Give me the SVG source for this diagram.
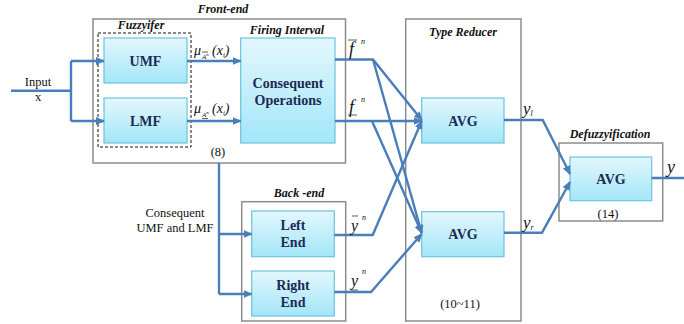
<svg xmlns="http://www.w3.org/2000/svg" width="684" height="324" viewBox="0 0 684 324" font-family="Liberation Serif, DejaVu Serif, Times New Roman, serif">
<defs>
<linearGradient id="bg" x1="0" y1="0" x2="0" y2="1">
<stop offset="0" stop-color="#e3f7fd"/>
<stop offset="1" stop-color="#a3e6f8"/>
</linearGradient>
<marker id="ah" markerUnits="userSpaceOnUse" markerWidth="9" markerHeight="8" refX="8" refY="4" orient="auto">
<path d="M0,0 L9,4 L0,8 Z" fill="#4a7ebb"/>
</marker>
</defs>
<style>
.frame{fill:none;stroke:#8c8c8c;stroke-width:1.5}
.blk{fill:url(#bg);stroke:#6cc3dc;stroke-width:1.2}
.lbl{font-weight:bold;font-size:14px;fill:#1b2a55;text-anchor:middle}
.ttl{font-weight:bold;font-style:italic;font-size:12px;fill:#111}
.txt{font-size:12.5px;fill:#111;text-anchor:middle}
.math{font-style:italic;fill:#111}
.c{fill:none;stroke:#4a7ebb;stroke-width:2.4}
.a{marker-end:url(#ah)}
.bar{stroke:#333;stroke-width:0.8}
</style>

<g id="front-end">
<rect class="frame" x="93" y="19" width="252.5" height="144"/>
<text class="ttl" x="223" y="13" text-anchor="middle" font-size="13">Front-end</text>
<text class="txt" x="218" y="156">(8)</text>
</g>
<g id="fuzzyifier">
<rect x="98" y="33" width="93" height="114" fill="none" stroke="#111" stroke-width="1" stroke-dasharray="3,2"/>
<text class="ttl" x="141" y="29" text-anchor="middle" font-size="11.5">Fuzzyifer</text>
</g>
<g id="umf">
<rect class="blk" x="104" y="38" width="83" height="45"/>
<text class="lbl" x="145.5" y="66">UMF</text>
</g>
<g id="lmf">
<rect class="blk" x="104" y="98" width="83" height="45"/>
<text class="lbl" x="145.5" y="126">LMF</text>
</g>
<g id="consequent-operations">
<text class="ttl" x="287" y="34" text-anchor="middle" font-size="12.5">Firing Interval</text>
<rect class="blk" x="240.7" y="38" width="94.3" height="105"/>
<text class="lbl" x="288" y="88">Consequent</text>
<text class="lbl" x="288" y="105">Operations</text>
</g>
<g id="type-reducer">
<rect class="frame" x="405.7" y="19" width="115.3" height="302"/>
<text class="ttl" x="463" y="36" text-anchor="middle" font-size="13.5" fill="#1f3163">Type Reducer</text>
<text class="txt" x="460" y="308">(10~11)</text>
</g>
<g id="avg-upper">
<rect class="blk" x="421.7" y="98" width="82.3" height="45"/>
<text class="lbl" x="463" y="125.5" font-size="13">AVG</text>
</g>
<g id="avg-lower">
<rect class="blk" x="421.7" y="211.7" width="82.3" height="45"/>
<text class="lbl" x="463" y="239" font-size="13">AVG</text>
</g>
<g id="defuzzification">
<rect class="frame" x="559" y="143" width="103.7" height="78"/>
<text class="ttl" x="610" y="138" text-anchor="middle" font-size="11.5">Defuzzyification</text>
<text class="txt" x="608" y="218">(14)</text>
</g>
<g id="avg-defuzz">
<rect class="blk" x="570" y="157" width="81.7" height="43.7"/>
<text class="lbl" x="611" y="183.5" font-size="13">AVG</text>
</g>
<g id="back-end">
<rect class="frame" x="241.7" y="201.7" width="104" height="119.3"/>
<text class="ttl" x="299" y="197" text-anchor="middle">Back -end</text>
</g>
<g id="left-end">
<rect class="blk" x="251.7" y="211" width="82.6" height="45.7"/>
<text class="lbl" x="293" y="230">Left</text>
<text class="lbl" x="293" y="247">End</text>
</g>
<g id="right-end">
<rect class="blk" x="251.7" y="271" width="82.6" height="45"/>
<text class="lbl" x="293" y="290">Right</text>
<text class="lbl" x="293" y="307">End</text>
</g>

<g id="connectors">
<path class="c" d="M11,90.7 H71 M71,61 V121"/>
<path class="c a" d="M71,61 H104"/>
<path class="c a" d="M71,121 H104"/>
<path class="c a" d="M187,61 H240.7"/>
<path class="c a" d="M187,121 H240.7"/>
<path class="c a" d="M335,59.5 H373 L421.7,120"/>
<path class="c a" d="M373,59.5 L421.7,233"/>
<path class="c a" d="M335,121 H421.7"/>
<path class="c a" d="M372,121 L421.7,233"/>
<path class="c a" d="M334.3,235 H372.7 L421.7,121"/>
<path class="c a" d="M334.3,292 H371 L421.7,234"/>
<path class="c a" d="M504,120 H542.7 L570,174"/>
<path class="c a" d="M504,232.7 H542 L570,182"/>
<path class="c" d="M651.7,178 H684"/>
<path class="c" d="M219,163 V294"/>
<path class="c a" d="M219,234 H251.7"/>
<path class="c a" d="M219,294 H251.7"/>
</g>

<g id="labels">
<text class="txt" x="38" y="86">Input</text>
<text class="txt" x="38" y="101">x</text>
<text class="txt" x="175" y="217">Consequent</text>
<text class="txt" x="175" y="232">UMF and LMF</text>

<text class="math" x="194" y="55" font-size="14">μ</text>
<text class="math" x="202" y="59" font-size="7">A<tspan dy="-3" font-size="5">n</tspan></text>
<line class="bar" x1="202" y1="52" x2="208" y2="52"/>
<text class="math" x="212" y="55" font-size="14">(x<tspan dy="2" font-size="7">i</tspan><tspan dy="-2">)</tspan></text>

<text class="math" x="194" y="113" font-size="14">μ</text>
<text class="math" x="202" y="117" font-size="7">A<tspan dy="-3" font-size="5">n</tspan></text>
<line class="bar" x1="202" y1="118.5" x2="208" y2="118.5"/>
<text class="math" x="212" y="113" font-size="14">(x<tspan dy="2" font-size="7">i</tspan><tspan dy="-2">)</tspan></text>

<text class="math" x="349" y="55" font-size="18">f</text>
<line class="bar" x1="348" y1="40" x2="357" y2="40"/>
<text class="math" x="361" y="44" font-size="8">n</text>

<text class="math" x="349" y="113" font-size="18">f</text>
<line class="bar" x1="348" y1="115" x2="357" y2="115"/>
<text class="math" x="361" y="102" font-size="8">n</text>

<text class="math" x="351" y="231" font-size="16">y</text>
<line class="bar" x1="352" y1="216" x2="358" y2="216"/>
<text class="math" x="362" y="220" font-size="8">n</text>

<text class="math" x="351" y="286" font-size="16">y</text>
<line class="bar" x1="351" y1="290" x2="358" y2="290"/>
<text class="math" x="362" y="274" font-size="8">n</text>

<text class="math" x="523" y="114" font-size="17">y<tspan dy="2" font-size="8">l</tspan></text>
<text class="math" x="523" y="228" font-size="17">y<tspan dy="2" font-size="8">r</tspan></text>
<text class="math" x="667" y="173" font-size="18">y</text>
</g>
</svg>
